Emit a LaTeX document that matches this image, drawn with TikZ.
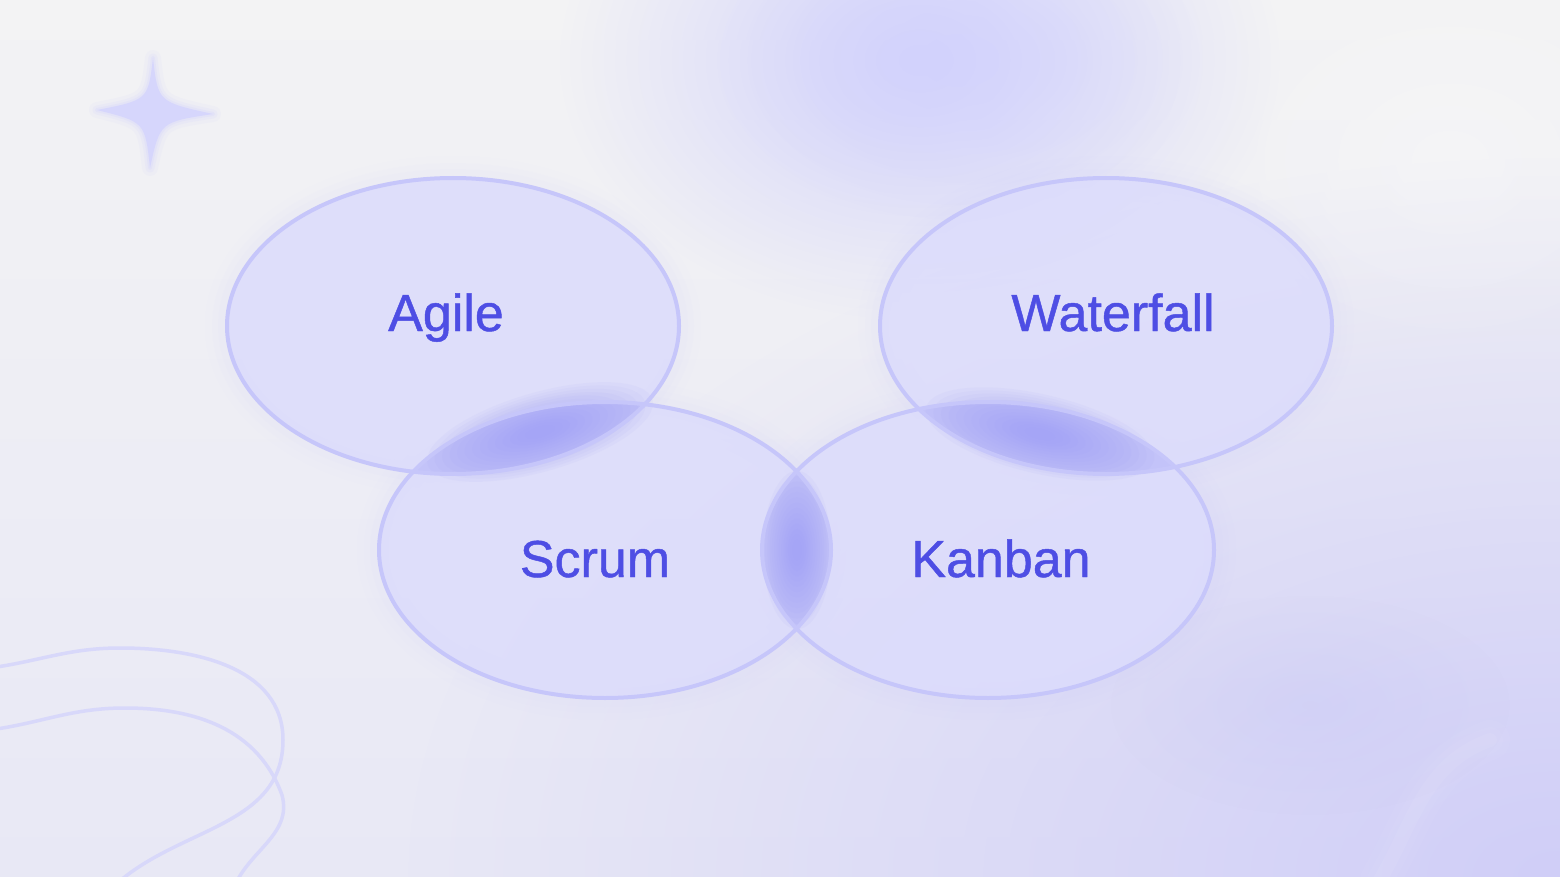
\documentclass[tikz,border=0pt]{standalone}
\usepackage{fontspec}
\newfontfamily\lblfont[FakeBold=0.9]{Liberation Sans}
\usetikzlibrary{fadings}
\definecolor{bgA}{RGB}{243,243,244}
\definecolor{bgC}{RGB}{232,232,245}
\definecolor{bgB}{RGB}{208,206,248}
\definecolor{blobc}{RGB}{210,210,253}
\definecolor{efill}{RGB}{220,220,252}
\definecolor{eglow}{RGB}{205,205,250}
\definecolor{estroke}{RGB}{198,198,250}
\definecolor{lensc}{RGB}{150,150,246}
\definecolor{txt}{RGB}{78,78,228}
\definecolor{deco}{RGB}{216,216,250}
\definecolor{starc}{RGB}{214,214,252}
\definecolor{brblob}{RGB}{200,200,244}
\tikzfading[name=fuzz, inner color=transparent!0, outer color=transparent!100]
\tikzset{
  decoline/.style={draw=deco, line width=3.5pt},
  ringline/.style={draw=estroke, line width=4pt},
  ringfill/.style={fill=efill, fill opacity=0.85},
  lbl/.style={text=txt, font=\lblfont\fontsize{52}{60}\selectfont, anchor=base, inner sep=0pt},
}
\begin{document}
\begin{tikzpicture}[x=1pt, y=-1pt]
\useasboundingbox (0,0) rectangle (1560,877);
\clip (0,0) rectangle (1560,877);
% background
\shade[top color=bgA, bottom color=bgC] (0,0) rectangle (1560,877);
\fill[bgB, path fading=fuzz] (1560,877) ellipse[x radius=1150, y radius=720];
\fill[blobc, path fading=fuzz] (920,60) ellipse[x radius=360, y radius=260];
\fill[blobc, path fading=fuzz, opacity=0.6] (960,60) ellipse[x radius=240, y radius=160];
\fill[white, path fading=fuzz, opacity=0.25] (1450,160) ellipse[x radius=260, y radius=200];
\fill[brblob, path fading=fuzz, opacity=0.35] (1310,705) ellipse[x radius=200, y radius=110];
\foreach \w/\o in {40/0.03, 26/0.04, 14/0.05} {
  \draw[white, line width=\w pt, opacity=\o, line cap=round] (1490,740) to[out=200,in=60] (1380,880);
}
% star
\coordinate (star) at (155,112);
\foreach \w/\o in {16/0.12, 9/0.2, 4/0.3} {
  \draw[starc, line width=\w pt, opacity=\o, line join=round]
    (153,58) .. controls (158,102) .. (213,114) .. controls (160,122) .. (150,168)
    .. controls (145,122) .. (97,110) .. controls (148,100) .. cycle;
}
\fill[starc]
    (153,58) .. controls (158,102) .. (213,114) .. controls (160,122) .. (150,168)
    .. controls (145,122) .. (97,110) .. controls (148,100) .. cycle;
% decorative curves bottom-left
\draw[decoline] (-10,668) to[out=8,in=180] (120,648) to[out=0,in=90] (283,740) to[out=-90,in=45] (110,890);
\draw[decoline] (-10,730) to[out=8,in=180] (125,708) to[out=0,in=110] (282,795) to[out=-75,in=70] (233,890);
% ellipse centres
\coordinate (A) at (453,326);
\coordinate (W) at (1106,326);
\coordinate (S) at (605,550);
\coordinate (K) at (988,550);
% glows
\foreach \c in {A,W,S,K} {
  \foreach \w/\o in {44/0.025, 30/0.03, 18/0.04} {
    \draw[eglow, line width=\w pt, opacity=\o] (\c) ellipse[x radius=226, y radius=148];
  }
}
% fills
\foreach \c in {A,W,S,K} {
  \fill[ringfill] (\c) ellipse[x radius=226, y radius=148];
}
% lens: crisp part
\foreach \p/\q in {A/S, W/K, S/K} {
  \begin{scope}
    \clip (\p) ellipse[x radius=226, y radius=148];
    \fill[lensc, opacity=0.35] (\q) ellipse[x radius=226, y radius=148];
  \end{scope}
}
% lens: soft glow
\coordinate (lensAS) at (540,432);
\coordinate (lensWK) at (1040,434);
\coordinate (lensSK) at (797,550);
\foreach \s in {0.9,0.84,...,0.1} {
  \fill[lensc, opacity=0.06] (lensAS) ellipse[x radius=130*\s, y radius=44*\s, rotate=16];
  \fill[lensc, opacity=0.06] (lensWK) ellipse[x radius=130*\s, y radius=44*\s, rotate=-13];
  \fill[lensc, opacity=0.06] (lensSK) ellipse[x radius=38*\s, y radius=88*\s];
}
% outlines
\foreach \c in {A,W,S,K} {
  \draw[ringline] (\c) ellipse[x radius=226, y radius=148];
}
% labels
\node[lbl] (agile) at (446,331) {Agile};
\node[lbl] (waterfall) at (1113,331) {Waterfall};
\node[lbl] (scrum) at (595,577) {Scrum};
\node[lbl] (kanban) at (1001,577) {Kanban};
\end{tikzpicture}
\end{document}
